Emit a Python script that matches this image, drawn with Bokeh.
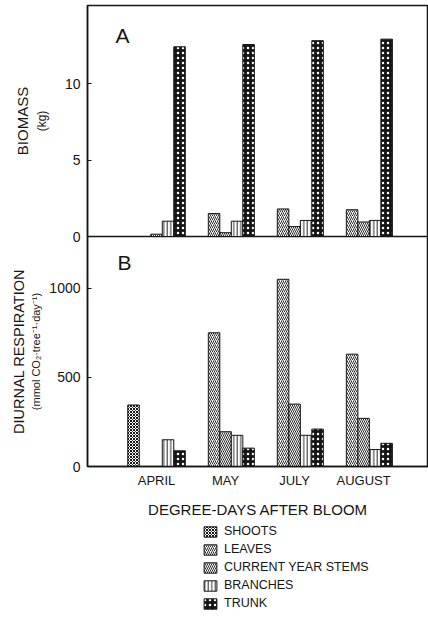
from bokeh.plotting import figure
from bokeh.models import (ColumnDataSource, FixedTicker, Label, Legend, LegendItem,
                          Title, Range1d)
from bokeh.layouts import column
from bokeh.transform import dodge
from bokeh.embed import file_html
from bokeh.resources import INLINE

# ---------------- data ----------------
months = ["APRIL", "MAY", "JULY", "AUGUST"]
month_pos = [1, 2, 3, 4]
components = ["SHOOTS", "LEAVES", "CURRENT YEAR STEMS", "BRANCHES", "TRUNK"]

biomass_shoots = [0, 0, 0, 0]
biomass_leaves = [0, 1.5, 1.8, 1.75]
biomass_stems = [0.15, 0.25, 0.65, 0.95]
biomass_branches = [1.0, 1.0, 1.05, 1.05]
biomass_trunk = [12.4, 12.55, 12.8, 12.9]

resp_shoots = [345, 0, 0, 0]
resp_leaves = [0, 750, 1050, 630]
resp_stems = [0, 195, 350, 270]
resp_branches = [150, 175, 175, 95]
resp_trunk = [88, 103, 210, 130]

biomass_ticks = [0, 5, 10]
resp_ticks = [0, 500, 1000]

FONT = "Liberation Sans"
INK = "#151515"
BAR_W = 1 / 6

styles = {
    "SHOOTS": dict(fill_color="white", hatch_pattern="diagonal_cross", hatch_scale=3,
                   hatch_weight=1.0, hatch_color=INK),
    "LEAVES": dict(fill_color="white", hatch_pattern="right_diagonal_line", hatch_scale=4,
                   hatch_weight=0.9, hatch_color=INK),
    "CURRENT YEAR STEMS": dict(fill_color="white", hatch_pattern="left_diagonal_line",
                               hatch_scale=4, hatch_weight=0.9, hatch_color=INK),
    "BRANCHES": dict(fill_color="white", hatch_pattern="vertical_line", hatch_scale=3.5,
                     hatch_weight=0.9, hatch_color=INK),
    "TRUNK": dict(fill_color=INK, hatch_pattern="dot", hatch_scale=5,
                  hatch_weight=2.2, hatch_color="white"),
}
offsets = [-2 * BAR_W, -BAR_W, 0, BAR_W, 2 * BAR_W]


def make_source(vals):
    d = {"x": month_pos}
    for name, v in zip(components, vals):
        d[name] = v
    return ColumnDataSource(d)


src_a = make_source([biomass_shoots, biomass_leaves, biomass_stems, biomass_branches, biomass_trunk])
src_b = make_source([resp_shoots, resp_leaves, resp_stems, resp_branches, resp_trunk])


def style_axis(ax):
    ax.axis_line_color = INK
    ax.axis_line_width = 1.5
    ax.major_tick_line_color = INK
    ax.major_tick_line_width = 1.2
    ax.major_tick_in = 4
    ax.major_tick_out = 0
    ax.minor_tick_line_color = None
    ax.major_label_text_font = FONT
    ax.major_label_text_font_size = "14px"
    ax.major_label_text_color = INK
    ax.axis_label_text_font = FONT
    ax.axis_label_text_font_style = "normal"
    ax.axis_label_text_color = INK


def base_fig(height, yrange, top=0, bottom=0, **kw):
    p = figure(width=428, height=height, output_backend="svg", toolbar_location=None,
               x_range=Range1d(0, 4.94), y_range=yrange,
               min_border_left=87, min_border_right=0, min_border_top=top,
               min_border_bottom=bottom, **kw)
    p.xgrid.visible = False
    p.ygrid.visible = False
    p.outline_line_color = INK
    p.outline_line_width = 1.5
    p.background_fill_color = "white"
    return p


# ---------------- panel A ----------------
pA = base_fig(244, Range1d(0, 15.1), top=5, bottom=8)
for name, off in zip(components, offsets):
    pA.vbar(x=dodge("x", off), top=name, width=BAR_W, source=src_a,
            line_color=INK, line_width=1, **styles[name])
pA.xaxis.visible = False
style_axis(pA.yaxis[0])
pA.yaxis.ticker = FixedTicker(ticks=biomass_ticks)
pA.yaxis.major_label_standoff = 7
pA.yaxis.axis_label = "(kg)"
pA.yaxis.axis_label_text_font_size = "12px"
pA.yaxis.axis_label_standoff = 13
pA.add_layout(Title(text="BIOMASS", align="center", text_font=FONT, text_font_size="15px",
                    text_font_style="normal", text_color=INK, standoff=2), "left")
pA.add_layout(Label(x=28, y=190, x_units="screen", y_units="screen", text="A",
                    text_font=FONT, text_font_size="21px", text_color=INK))

# ---------------- panel B ----------------
pB = base_fig(286, Range1d(0, 1290), top=0, bottom=56, margin=(-8, 0, 0, 0))
pB.border_fill_alpha = 0
for name, off in zip(components, offsets):
    pB.vbar(x=dodge("x", off), top=name, width=BAR_W, source=src_b,
            line_color=INK, line_width=1, **styles[name])
style_axis(pB.yaxis[0])
pB.yaxis.ticker = FixedTicker(ticks=resp_ticks)
pB.yaxis.major_label_standoff = 7
pB.yaxis.axis_label = "(mmol CO\u2082\u00b7tree\u207b\u00b9\u00b7day\u207b\u00b9)"
pB.yaxis.axis_label_text_font_size = "11px"
pB.yaxis.axis_label_standoff = 4
pB.add_layout(Title(text="DIURNAL RESPIRATION", align="center", text_font=FONT,
                    text_font_size="14.5px", text_font_style="normal", text_color=INK,
                    standoff=2), "left")

xax = pB.xaxis[0]
style_axis(xax)
xax.ticker = FixedTicker(ticks=month_pos)
xax.major_label_overrides = {pos: m for pos, m in zip(month_pos, months)}
xax.major_label_text_font_size = "13px"
xax.major_tick_line_color = None
xax.major_label_standoff = 6
xax.axis_label = "DEGREE-DAYS AFTER BLOOM"
xax.axis_label_text_font_size = "15px"
xax.axis_label_standoff = 10

pB.add_layout(Label(x=30, y=193, x_units="screen", y_units="screen", text="B",
                    text_font=FONT, text_font_size="21px", text_color=INK))

# ---------------- legend strip (same glyphs, bars kept out of view) ----------------
pL = figure(width=428, height=103, output_backend="svg", toolbar_location=None,
            x_range=Range1d(0, 4.94), y_range=Range1d(5000, 5001),
            x_axis_location=None, y_axis_location=None,
            min_border_left=87, min_border_right=0, min_border_top=0, min_border_bottom=0)
pL.grid.visible = False
pL.outline_line_color = None
pL.border_fill_alpha = 0
pL.background_fill_alpha = 0
legend_renderers = []
for name, off in zip(components, offsets):
    r = pL.vbar(x=dodge("x", off), top=name, width=BAR_W, source=src_b,
                line_color=INK, line_width=1, **styles[name])
    legend_renderers.append(r)
legend = Legend(items=[LegendItem(label=n, renderers=[r]) for n, r in zip(components, legend_renderers)],
                location=(115, 15), orientation="vertical",
                label_text_font=FONT, label_text_font_size="12.5px", label_text_color=INK,
                glyph_width=16, glyph_height=13, label_height=13, spacing=4,
                label_standoff=6, padding=0, margin=0,
                border_line_color=None, background_fill_alpha=0)
pL.add_layout(legend, "center")

layout = column(pA, pB, pL, spacing=0)
open("out.html", "w").write(file_html(layout, INLINE))
